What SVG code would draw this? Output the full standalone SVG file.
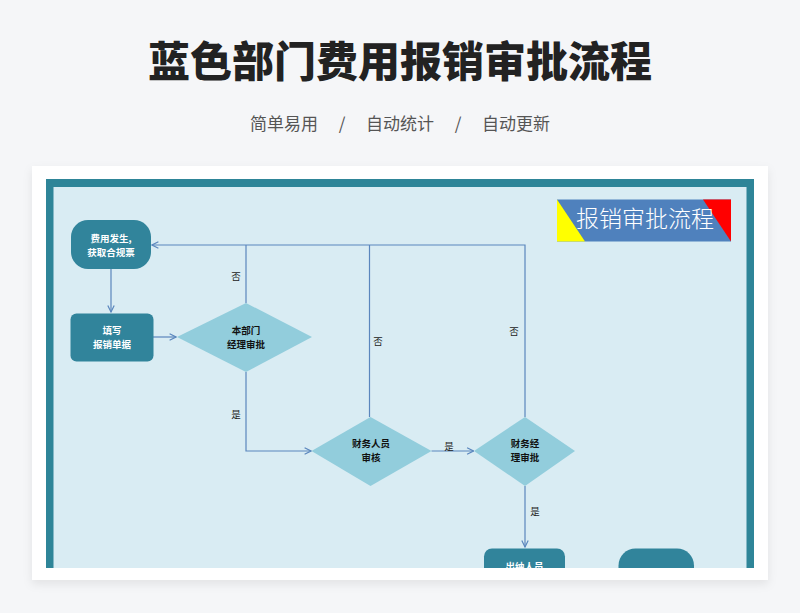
<svg xmlns="http://www.w3.org/2000/svg" width="800" height="613" viewBox="0 0 800 613">
<defs>
<style>
.title{font-family:"Noto Sans CJK SC",sans-serif;font-weight:900;font-size:42px;fill:#222;}
.sub{font-family:"Noto Sans CJK SC",sans-serif;font-size:17px;fill:#555;}
.nt{font-family:"Noto Sans CJK SC",sans-serif;font-weight:700;font-size:9.5px;text-anchor:middle;}
.w{fill:#fff;}
.k{fill:#111;}
.lbl{font-family:"Noto Sans CJK SC",sans-serif;font-size:9.5px;fill:#222;text-anchor:middle;}
.box{fill:#31849b;}
.dia{fill:#92cddc;}
.ln{fill:none;stroke:#5a86bd;stroke-width:1.2;}
</style>
<marker id="ah" viewBox="0 0 10 10" refX="9" refY="5" markerWidth="8" markerHeight="8" orient="auto" markerUnits="userSpaceOnUse">
<path d="M1,1 L9,5 L1,9" fill="none" stroke="#5a86bd" stroke-width="1.5"/>
</marker>
<clipPath id="clip"><rect x="32" y="166" width="736" height="402"/></clipPath>
<filter id="sh" x="-5%" y="-5%" width="110%" height="115%"><feDropShadow dx="0" dy="4" stdDeviation="5" flood-color="#000" flood-opacity="0.08"/></filter>
</defs>
<rect x="0" y="0" width="800" height="613" fill="#f5f6f8"/>
<text class="title" x="400" y="77" text-anchor="middle">蓝色部门费用报销审批流程</text>
<g class="sub">
<text x="284" y="130" text-anchor="middle">简单易用</text>
<text x="342" y="130" text-anchor="middle">/</text>
<text x="400" y="130" text-anchor="middle">自动统计</text>
<text x="458" y="130" text-anchor="middle">/</text>
<text x="516" y="130" text-anchor="middle">自动更新</text>
</g>
<rect x="32" y="166" width="736" height="414" fill="#fff" filter="url(#sh)"/>
<g clip-path="url(#clip)">
<rect x="46" y="179" width="708" height="420" fill="#2e8598"/>
<rect x="53.5" y="187" width="693" height="420" fill="#d9ecf3"/>
<g id="banner">
<rect x="557" y="199.5" width="174" height="42" fill="#4f81bd"/>
<polygon points="557,199.5 557,241.5 585,241.5" fill="#ffff00"/>
<polygon points="703,199.5 731,199.5 731,241.5" fill="#ff0000"/>
<text x="645" y="226.5" text-anchor="middle" font-family="Noto Sans CJK SC, sans-serif" font-size="23" font-weight="300" fill="#fff">报销审批流程</text>
</g>
<g id="connectors">
<line class="ln" x1="111" y1="269" x2="111" y2="312" marker-end="url(#ah)"/>
<line class="ln" x1="153" y1="337" x2="176" y2="337" marker-end="url(#ah)"/>
<polyline class="ln" points="246,303 246,245"/>
<polyline class="ln" points="369.5,417 369.5,245"/>
<polyline class="ln" points="525,417 525,245 152,245" marker-end="url(#ah)"/>
<polyline class="ln" points="246,372 246,451 311,451" marker-end="url(#ah)"/>
<line class="ln" x1="431.5" y1="451" x2="473.5" y2="451" marker-end="url(#ah)"/>
<line class="ln" x1="525" y1="486" x2="525" y2="547" marker-end="url(#ah)"/>
<text class="lbl" x="236" y="280">否</text>
<text class="lbl" x="378" y="345">否</text>
<text class="lbl" x="514" y="335">否</text>
<text class="lbl" x="236" y="418">是</text>
<text class="lbl" x="449" y="450">是</text>
<text class="lbl" x="535" y="515">是</text>
</g>
<g id="n1">
<rect class="box" x="71" y="220" width="80" height="49" rx="17"/>
<text class="nt w" x="111" y="242"><tspan x="111">费用发生,</tspan><tspan x="111" dy="13.9">获取合规票</tspan></text>
</g>
<g id="n2">
<rect class="box" x="70.5" y="313.5" width="83" height="48" rx="6"/>
<text class="nt w" x="112" y="334"><tspan x="112">填写</tspan><tspan x="112" dy="13.9">报销单据</tspan></text>
</g>
<g id="n3">
<polygon class="dia" points="177,337 246,303 312,337 246,372"/>
<text class="nt k" x="246" y="334"><tspan x="246">本部门</tspan><tspan x="246" dy="13.9">经理审批</tspan></text>
</g>
<g id="n4">
<polygon class="dia" points="311.5,451 370.5,417 431.5,451 370.5,486"/>
<text class="nt k" x="371" y="447"><tspan x="371">财务人员</tspan><tspan x="371" dy="13.9">审核</tspan></text>
</g>
<g id="n5">
<polygon class="dia" points="474,451 525,417 575,451 525,486"/>
<text class="nt k" x="525" y="447"><tspan x="525">财务经</tspan><tspan x="525" dy="13.9">理审批</tspan></text>
</g>
<g id="n6">
<rect class="box" x="484" y="548.5" width="81" height="45" rx="8"/>
<text class="nt w" x="524.5" y="570">出纳人员</text>
</g>
<g id="n7">
<rect class="box" x="618.5" y="548.5" width="75.5" height="45" rx="17"/>
</g>
</g>
</svg>
